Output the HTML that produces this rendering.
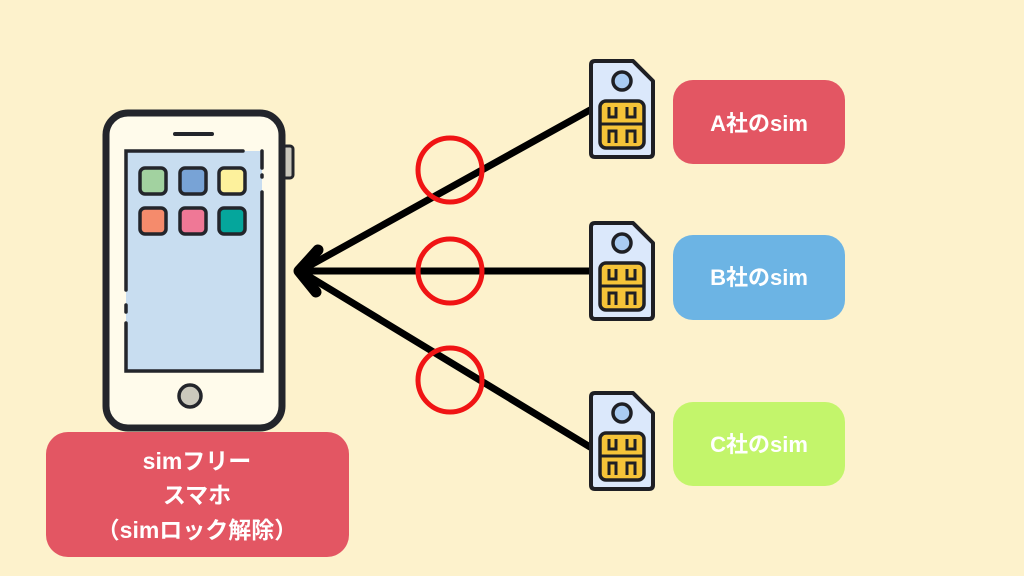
<!DOCTYPE html>
<html><head><meta charset="utf-8"><style>
body{margin:0;background:#fdf2cc}
svg{display:block}
text{font-family:"Liberation Sans","Noto Sans CJK JP",sans-serif;font-weight:bold;fill:#fff;text-anchor:middle}
</style></head><body>
<svg width="1024" height="576" viewBox="0 0 1024 576">
<rect width="1024" height="576" fill="#fdf2cc"/>
<defs>
<g id="sim">
<path d="M6 0 H44 L64 20 V92 Q64 96 60 96 H6 Q2 96 2 92 V4 Q2 0 6 0 Z" fill="#dbe8fb" stroke="#1e1f24" stroke-width="4" stroke-linejoin="round"/>
<circle cx="33" cy="20" r="9" fill="#a9cbf2" stroke="#1e1f24" stroke-width="3.5"/>
<rect x="11" y="40" width="44" height="47" rx="6" fill="#f5c338" stroke="#1e1f24" stroke-width="3.5"/>
<path d="M20 46 V56 H27 V46 M38 46 V56 H46 V46 M11 63 H55 M20 82 V70 H27 V82 M38 82 V70 H46 V82" fill="none" stroke="#1e1f24" stroke-width="3"/>
</g>
</defs>
<g stroke="#000" stroke-width="7" stroke-linecap="round" fill="none">
<line x1="300" y1="271" x2="590" y2="110"/>
<line x1="300" y1="271" x2="590" y2="271"/>
<line x1="300" y1="271" x2="590" y2="447"/>
<path d="M318 250 L299 271 L316 292" stroke-width="11" stroke-linejoin="round"/>
</g>
<g stroke="#f01414" stroke-width="5" fill="none">
<circle cx="450" cy="170" r="32"/>
<circle cx="450" cy="271" r="32"/>
<circle cx="450" cy="380" r="32"/>
</g>
<rect x="283" y="146" width="10" height="32" rx="3" fill="#c8c6bb" stroke="#23252b" stroke-width="3"/>
<rect x="106" y="113" width="176" height="315" rx="22" fill="#fffbeb" stroke="#23252b" stroke-width="7"/>
<rect x="126" y="151" width="136" height="220" fill="#c8ddf0"/>
<path d="M126 290 V151 H243 M126 305 V312 M126 323 V371 H262 V192 M262 151 V168 M262 175 V177" fill="none" stroke="#23252b" stroke-width="3.5" stroke-linecap="round"/>
<line x1="175" y1="134" x2="212" y2="134" stroke="#23252b" stroke-width="4" stroke-linecap="round"/>
<circle cx="190" cy="396" r="11" fill="#cbc9bd" stroke="#23252b" stroke-width="3.5"/>
<g stroke="#23252b" stroke-width="3.5">
<rect x="140" y="168" width="26" height="26" rx="5" fill="#a2d2a0"/>
<rect x="180" y="168" width="26" height="26" rx="5" fill="#78a3d6"/>
<rect x="219" y="168" width="26" height="26" rx="5" fill="#fdf19c"/>
<rect x="140" y="208" width="26" height="26" rx="5" fill="#f58b6c"/>
<rect x="180" y="208" width="26" height="26" rx="5" fill="#ef7896"/>
<rect x="219" y="208" width="26" height="26" rx="5" fill="#05a69c"/>
</g>
<use href="#sim" x="589" y="61"/>
<use href="#sim" x="589" y="223"/>
<use href="#sim" x="589" y="393"/>
<rect x="673" y="80" width="172" height="84" rx="20" fill="#e35663"/>
<text x="759" y="131" font-size="22">A社のsim</text>
<rect x="673" y="235" width="172" height="85" rx="20" fill="#6cb4e4"/>
<text x="759" y="285" font-size="22">B社のsim</text>
<rect x="673" y="402" width="172" height="84" rx="20" fill="#c3f56b"/>
<text x="759" y="452" font-size="22">C社のsim</text>
<rect x="46" y="432" width="303" height="125" rx="22" fill="#e35663"/>
<text x="197" y="469" font-size="23">simフリー</text>
<text x="197" y="503" font-size="23">スマホ</text>
<text x="197" y="538" font-size="23">（simロック解除）</text>
</svg>
</body></html>
